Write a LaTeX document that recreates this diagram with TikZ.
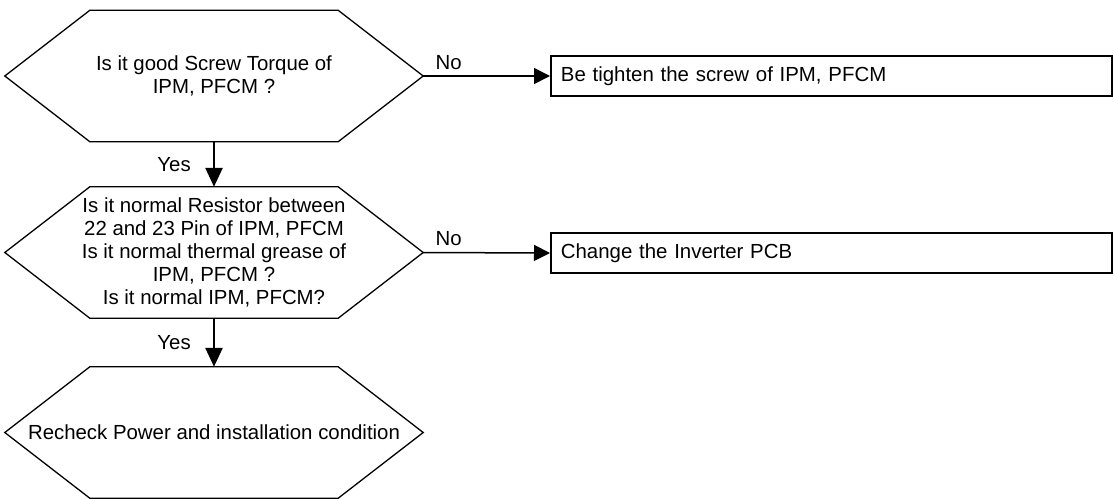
\documentclass[tikz,border=0pt]{standalone}
\usepackage{fontspec}
\setmainfont{Liberation Sans}
\usetikzlibrary{calc,arrows.meta}

\begin{document}
\begin{tikzpicture}[x=1pt,y=-1pt,
        font=\fontsize{20.4}{23}\selectfont,
        hexa/.style={minimum width=418pt, minimum height=131pt, inner sep=0pt, align=center},
        act/.style={draw, line width=1.8pt, minimum height=40pt, text width=541pt,
            inner xsep=10pt, inner ysep=0pt, align=left, anchor=west},
        down/.style={line width=2.5pt, -{Triangle[length=19pt,width=17pt]}},
        side/.style={line width=1.5pt, -{Triangle[length=16pt,width=16pt]}},
        lbl/.style={inner sep=0pt}]
    \useasboundingbox (0,0) rectangle (1114,499);

    \node[hexa] (q1) at (214,76) {Is it good Screw Torque of\\IPM, PFCM ?};
    \node[hexa] (q2) at (214,252.5) {Is it normal Resistor between\\22 and 23 Pin of IPM, PFCM\\Is it normal thermal grease of\\IPM, PFCM ?\\Is it normal IPM, PFCM?};
    \node[hexa] (q3) at (214,432.5) {Recheck Power and installation condition};

    % hexagon outlines round the question nodes
    \foreach \n in {q1,q2,q3}
        \draw[line width=1.3pt, line join=miter]
            ($(\n.north west)+(85,0)$) -- ($(\n.north east)+(-85,0)$) -- (\n.east)
            -- ($(\n.south east)+(-85,0)$) -- ($(\n.south west)+(85,0)$) -- (\n.west) -- cycle;

    \node[act] (a1) at (550,76) {Be tighten the screw of IPM, PFCM};
    \node[act] (a2) at (550,253) {Change the Inverter PCB};

    \draw[down] (q1) -- node[lbl, left=22pt] {Yes} (q2);
    \draw[down] (q2) -- node[lbl, left=22pt] {Yes} (q3);
    \draw[side] (q1.east) -- node[lbl, pos=0.2, above=6pt] {No} (a1.west);
    \draw[side] (q2.east) -- node[lbl, pos=0.2, above=6pt] {No} (a2.west);
\end{tikzpicture}
\end{document}
